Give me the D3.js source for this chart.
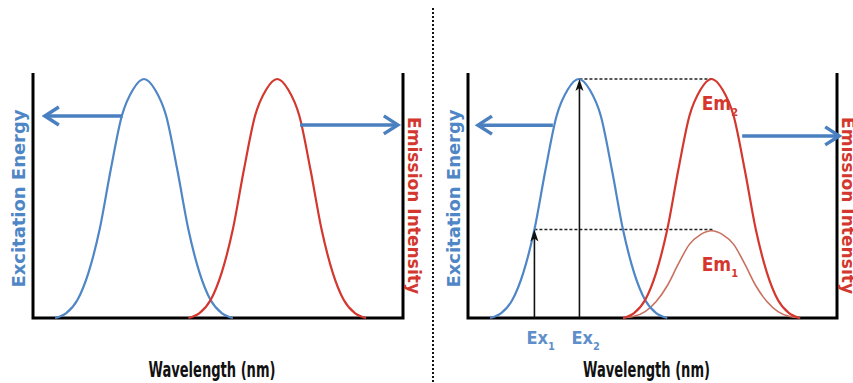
<!DOCTYPE html>
<html>
<head>
<meta charset="utf-8">
<script src="https://cdn.jsdelivr.net/npm/d3@7"></script>
<style>
body{margin:0;background:#fff;}
text{font-family:"Liberation Sans Narrow","DejaVu Sans Condensed","Arial Narrow",sans-serif;font-weight:bold;}
</style>
</head>
<body>
<svg id="chart" width="853" height="383"></svg>
<script>
// excitation spectrum (blue), wavelength in arbitrary units 0-100
let exWave=[6,9,12,15,18,21,24,27,30,33,36,39,42,45,48,51,54]
let exLevel=[0,0.02,0.075,0.19,0.37,0.62,0.845,0.955,1,0.955,0.845,0.62,0.37,0.19,0.075,0.02,0]
// emission spectra (red)
let emWave=[42,45,48,51,54,57,60,63,66,69,72,75,78,81,84,87,90]
let em2Level=[0,0.02,0.075,0.19,0.37,0.62,0.845,0.955,1,0.955,0.845,0.62,0.37,0.19,0.075,0.02,0]
let em1Level=[0,0.007,0.027,0.069,0.135,0.226,0.308,0.349,0.365,0.349,0.308,0.226,0.135,0.069,0.027,0.007,0]
// excitation wavelengths and their levels, emission peak
let exPos=[18,30.2]
let exTop=[0.37,1]
let exSub=["1","2"]
let emPeakPos=66.3
let emPeak=[0.365,1]
let emSub=["1","2"]
let emLabelDy=[40,31]

let blue="#4f86c6", red="#d3372e", redLight="#c9705f", arrowBlue="#4a7fc0"
let chart=d3.select("#chart")

let toPts=(xs,ys)=>xs.map((x,i)=>[x,ys[i]])

let drawPanel=(p)=>{
    let x=d3.scaleLinear().domain([0,100]).range([p.x0,p.x1])
    let y=d3.scaleLinear().domain([0,1]).range([318,79])
    let g=chart.append("g")
    let line=d3.line().x(d=>x(d[0])).y(d=>y(d[1])).curve(d3.curveMonotoneX)

    // frame
    g.append("path")
        .attr("d",`M${x(0)},${y(1.025)}V${y(0)}H${x(100)}V${y(1.025)}`)
        .attr("fill","none").attr("stroke","#000").attr("stroke-width",3)

    if(p.full){
        // dotted guide lines
        g.selectAll(".guide").data(exPos).enter().append("line")
            .attr("x1",d=>x(d)).attr("x2",x(emPeakPos))
            .attr("y1",(d,i)=>y(exTop[i])).attr("y2",(d,i)=>y(exTop[i]))
            .attr("stroke","#222").attr("stroke-width",1.5).attr("stroke-dasharray","3,2")
        g.append("path").datum(toPts(emWave,em1Level)).attr("d",line)
            .attr("fill","none").attr("stroke",redLight).attr("stroke-width",1.6)
    }
    g.append("path").datum(toPts(exWave,exLevel)).attr("d",line)
        .attr("fill","none").attr("stroke",blue).attr("stroke-width",2.2)
    g.append("path").datum(toPts(emWave,em2Level)).attr("d",line)
        .attr("fill","none").attr("stroke",red).attr("stroke-width",2.2)

    // blue arrows
    p.arrows.forEach(a=>{
        let y0=y(a.lvl), xs=x(a.from), xe=x(a.to), dir=xe>xs?-1:1
        g.append("line").attr("x1",xs).attr("x2",xe).attr("y1",y0).attr("y2",y0)
            .attr("stroke",arrowBlue).attr("stroke-width",3.5)
        g.append("path").attr("d",`M${xe+dir*14},${y0-9}L${xe},${y0}L${xe+dir*14},${y0+9}`)
            .attr("fill","none").attr("stroke",arrowBlue).attr("stroke-width",3.5)
            .attr("stroke-linejoin","miter")
    })

    if(p.full){
        // excitation arrows
        exPos.forEach((d,i)=>{
            let xx=x(d), top=y(exTop[i])
            g.append("line").attr("x1",xx).attr("x2",xx).attr("y1",y(0)).attr("y2",top+6)
                .attr("stroke","#111").attr("stroke-width",1.6)
            g.append("path").attr("d",`M${xx},${top}L${xx-4},${top+12}L${xx},${top+9}L${xx+4},${top+12}Z`)
                .attr("fill","#111")
            let t=g.append("text").attr("x",xx-8).attr("y",344)
                .attr("font-size",18).attr("fill","#5e8fca").attr("text-anchor","start")
            t.append("tspan").text("Ex")
            t.append("tspan").attr("dy",6).attr("font-size",11).text(exSub[i])
        })
        emPeak.forEach((d,i)=>{
            let t=g.append("text").attr("x",x(emPeakPos)-11).attr("y",y(d)+emLabelDy[i])
                .attr("font-size",19).attr("fill",red)
            t.append("tspan").text("Em")
            t.append("tspan").attr("dy",6).attr("font-size",11).text(emSub[i])
        })
    }

    // axis titles
    let midY=(y(0)+y(1.025))/2+3
    g.append("text").attr("transform",`translate(${x(0)-8},${midY}) rotate(-90)`)
        .attr("text-anchor","middle").attr("font-size",18).attr("fill",blue)
        .attr("textLength",178).attr("lengthAdjust","spacingAndGlyphs")
        .text("Excitation Energy")
    g.append("text").attr("transform",`translate(${x(100)+5},${midY+7}) rotate(90)`)
        .attr("text-anchor","middle").attr("font-size",18).attr("fill",red)
        .attr("textLength",177).attr("lengthAdjust","spacingAndGlyphs")
        .text("Emission Intensity")
    g.append("text").attr("x",(x(0)+x(100))/2-6).attr("y",377)
        .attr("text-anchor","middle").attr("font-size",22).attr("fill","#111")
        .attr("textLength",127).attr("lengthAdjust","spacingAndGlyphs")
        .text("Wavelength (nm)")
}

drawPanel({x0:33,x1:403,full:false,arrows:[{from:24.2,to:3.2,lvl:0.845},{from:72.2,to:98.6,lvl:0.808}]})
drawPanel({x0:468,x1:837,full:true,arrows:[{from:23,to:2.7,lvl:0.807},{from:74.3,to:100.6,lvl:0.762}]})

// dotted divider
chart.append("line").attr("x1",433).attr("x2",433).attr("y1",8).attr("y2",383)
    .attr("stroke","#111").attr("stroke-width",2).attr("stroke-dasharray","2,2")
</script>
</body>
</html>
